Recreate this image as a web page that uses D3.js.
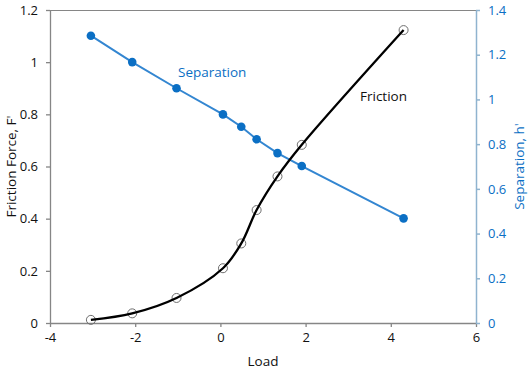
<!DOCTYPE html>
<html><head><meta charset="utf-8">
<script src="https://cdn.jsdelivr.net/npm/d3@7"></script>
<style>body{margin:0;background:#fff}svg{display:block;font-family:"Open Sans",sans-serif}</style>
</head><body>
<svg id="c" width="529" height="369"></svg>
<script>
const loadX = [-3.04, -2.07, -1.03, 0.06, 0.49, 0.85, 1.34, 1.91, 4.3];
const frictionF = [0.012, 0.037, 0.096, 0.21, 0.305, 0.433, 0.562, 0.683, 1.123];
const separationH = [1.285, 1.167, 1.05, 0.933, 0.878, 0.822, 0.76, 0.702, 0.468];
const xTicks = [-4, -2, 0, 2, 4, 6];
const yLeftTicks = [0, 0.2, 0.4, 0.6, 0.8, 1, 1.2];
const yRightTicks = [0, 0.2, 0.4, 0.6, 0.8, 1, 1.2, 1.4];

const svg = d3.select("#c");
const L = 50, R = 476, T = 10, B = 323;
const x = d3.scaleLinear().domain([-4, 6]).range([L, R]);
const yL = d3.scaleLinear().domain([0, 1.2]).range([B, T]);
const yR = d3.scaleLinear().domain([0, 1.4]).range([B, T]);
const blue = "#0b6fc4", lineBlue = "#3386d1", gray = "#868686";

// top border
svg.append("line").attr("x1", L).attr("x2", R).attr("y1", T + 0.5).attr("y2", T + 0.5).attr("stroke", gray).attr("stroke-width", 1);

const fmt = d => String(d);
const gx = svg.append("g").attr("transform", `translate(0,${B})`)
  .call(d3.axisBottom(x).tickValues(xTicks).tickFormat(fmt).tickSizeInner(4).tickSizeOuter(0).tickPadding(6));
const gl = svg.append("g").attr("transform", `translate(${L},0)`)
  .call(d3.axisLeft(yL).tickValues(yLeftTicks).tickFormat(fmt).tickSizeInner(4).tickSizeOuter(0).tickPadding(8));
const gr = svg.append("g").attr("transform", `translate(${R},0)`)
  .call(d3.axisRight(yR).tickValues(yRightTicks).tickFormat(fmt).tickSizeInner(4).tickSizeOuter(0).tickPadding(8));
[gx, gl].forEach(g => {
  g.selectAll("path,line").attr("stroke", gray).attr("stroke-width", 1.3);
  g.selectAll("text").attr("fill", "#111").style("font-size", "13px").style("font-family", "Open Sans");
});
gr.selectAll("path,line").attr("stroke", "#8fb3cf").attr("stroke-width", 1.5);
gr.selectAll("text").attr("fill", blue).style("font-size", "13px").style("font-family", "Open Sans");

// separation series
const sepData = loadX.map((d, i) => [d, separationH[i]]);
svg.append("path").datum(sepData)
  .attr("d", d3.line().x(d => x(d[0])).y(d => yR(d[1])))
  .attr("fill", "none").attr("stroke", lineBlue).attr("stroke-width", 2);
svg.selectAll("circle.sep").data(sepData).join("circle").attr("class", "sep")
  .attr("cx", d => x(d[0])).attr("cy", d => yR(d[1])).attr("r", 4.3).attr("fill", blue);

// friction series
const frData = loadX.map((d, i) => [d, frictionF[i]]);
svg.selectAll("circle.fr").data(frData).join("circle").attr("class", "fr")
  .attr("cx", d => x(d[0])).attr("cy", d => yL(d[1])).attr("r", 4.5)
  .attr("fill", "none").attr("stroke", "#6e6e6e").attr("stroke-width", 1);
svg.append("path").datum(frData)
  .attr("d", d3.line().x(d => x(d[0])).y(d => yL(d[1])).curve(d3.curveCatmullRom.alpha(0.5)))
  .attr("fill", "none").attr("stroke", "#000").attr("stroke-width", 2.3);

// series labels
svg.append("text").attr("x", 178).attr("y", 77).attr("fill", blue).style("font-size", "13.5px").text("Separation");
svg.append("text").attr("x", 360).attr("y", 101).attr("fill", "#111").style("font-size", "13.5px").text("Friction");

// axis titles
svg.append("text").attr("x", 263).attr("y", 366).attr("text-anchor", "middle").attr("fill", "#111").style("font-size", "13.5px").text("Load");
svg.append("text").attr("transform", `translate(16,${(T + B) / 2}) rotate(-90)`).attr("text-anchor", "middle")
  .attr("fill", "#111").style("font-size", "13.5px").text("Friction Force, F'");
svg.append("text").attr("transform", `translate(524,${(T + B) / 2}) rotate(-90)`).attr("text-anchor", "middle")
  .attr("fill", blue).style("font-size", "13.5px").text("Separation, h'");
</script>
</body></html>
